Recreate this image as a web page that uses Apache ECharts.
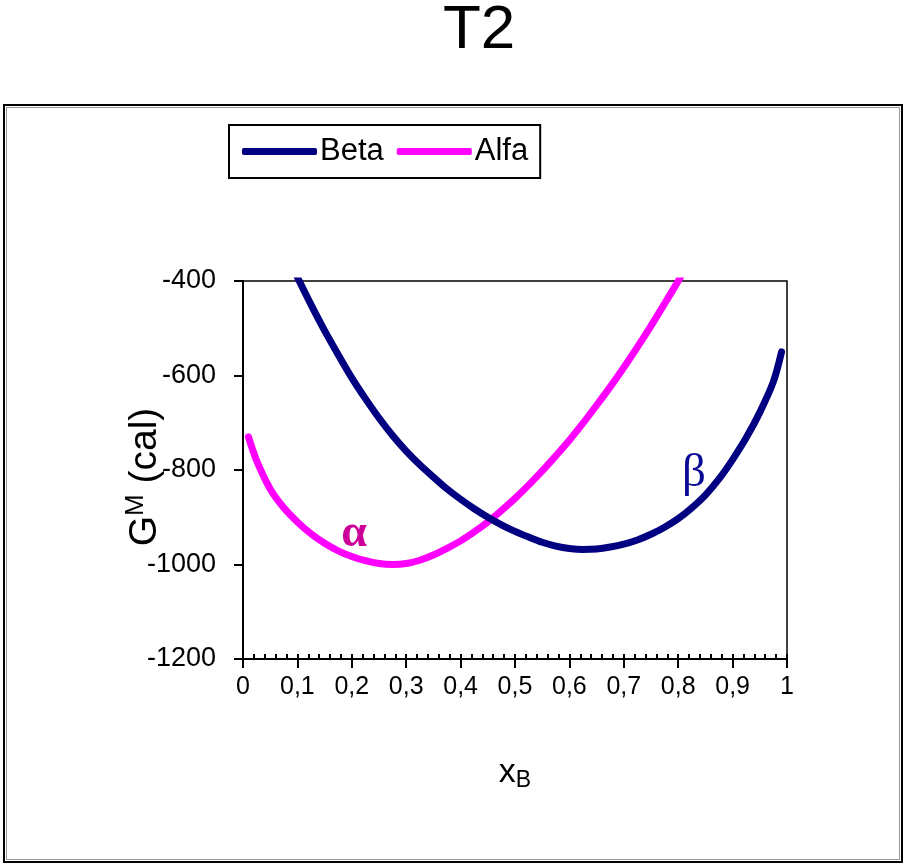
<!DOCTYPE html>
<html>
<head>
<meta charset="utf-8">
<script src="https://cdn.jsdelivr.net/npm/echarts@6/dist/echarts.min.js"></script>
<style>
  html, body { margin: 0; padding: 0; background: #fff; }
  #chart { width: 905px; height: 865px; }
</style>
</head>
<body>
<div id="chart"></div>
<script>
// Gibbs energy of mixing curves
const betaX = [0.100, 0.125, 0.150, 0.175, 0.200, 0.225, 0.250, 0.275, 0.300, 0.325, 0.350, 0.375, 0.400,
  0.425, 0.450, 0.475, 0.500, 0.525, 0.550, 0.575, 0.600, 0.625, 0.650, 0.675, 0.700, 0.725, 0.750,
  0.775, 0.800, 0.825, 0.850, 0.875, 0.900, 0.925, 0.950, 0.975, 0.990];
const betaG = [-392, -450, -505, -556, -605, -649, -690, -727, -760, -789, -815, -840, -862,
  -882, -900, -916, -930, -942, -953, -961, -966, -968, -967, -963, -957, -948, -936,
  -921, -903, -880, -853, -819, -778, -732, -678, -613, -550];

const alfaX = [0.010, 0.025, 0.050, 0.075, 0.100, 0.125, 0.150, 0.175, 0.200, 0.225, 0.250, 0.275, 0.300,
  0.325, 0.350, 0.375, 0.400, 0.425, 0.450, 0.475, 0.500, 0.525, 0.550, 0.575, 0.600, 0.625, 0.650,
  0.675, 0.700, 0.725, 0.750, 0.775, 0.800, 0.820];
const alfaG = [-730, -780, -840, -880, -910, -935, -955, -971, -983, -992, -998, -1000, -998,
  -991, -980, -966, -950, -931, -910, -886, -860, -832, -802, -770, -737, -701, -663,
  -624, -583, -540, -495, -448, -400, -360];

const xTicks = { min: 0, max: 1, step: 0.1, minorStep: 0.02 };
const yTicks = { min: -1200, max: -400, step: 200 };

const FONT = 'Liberation Sans, Arial, sans-serif';
const SERIF = 'Liberation Serif, Times New Roman, serif';

const chart = echarts.init(document.getElementById('chart'));

const zip = (xs, ys) => xs.map((x, i) => [x, ys[i]]);

chart.setOption({
  animation: false,
  backgroundColor: '#fff',
  title: {
    text: 'T2',
    left: 443,
    top: 0,
    padding: 0,
    textStyle: { fontFamily: FONT, fontSize: 62, fontWeight: 'normal', color: '#000' }
  },
  legend: {
    left: 229,
    top: 125,
    padding: [11, 12, 11, 13],
    borderColor: '#000',
    borderWidth: 2,
    borderRadius: 0,
    itemWidth: 75,
    itemHeight: 7,
    itemGap: 13,
    icon: 'roundRect',
    data: ['Beta', 'Alfa'],
    textStyle: { fontFamily: FONT, fontSize: 31, color: '#000', padding: [0, 0, 0, -2] }
  },
  grid: {
    left: 243,
    right: 118,
    top: 281,
    bottom: 206,
    show: true,
    borderColor: '#000',
    borderWidth: 1.5,
    backgroundColor: 'transparent'
  },
  xAxis: [
    {
      type: 'value',
      position: 'bottom',
      min: xTicks.min,
      max: xTicks.max,
      interval: xTicks.step,
      name: '{x|x}{sub|B}',
      nameLocation: 'middle',
      nameGap: 94,
      nameMoveOverlap: false,
      nameTextStyle: {
        rich: {
          x: { fontFamily: FONT, fontSize: 34, color: '#000' },
          sub: { fontFamily: FONT, fontSize: 23, color: '#000', padding: [16, 0, 0, 0] }
        }
      },
      axisLine: { show: true, lineStyle: { color: '#000', width: 2 } },
      axisTick: { show: true, inside: false, length: 9, lineStyle: { color: '#000', width: 2 } },
      axisLabel: {
        margin: 16,
        fontFamily: FONT,
        fontSize: 25,
        color: '#000',
        formatter: v => String(Math.round(v * 10) / 10).replace('.', ',')
      },
      splitLine: { show: false }
    },
    {
      type: 'value',
      position: 'bottom',
      offset: 0,
      min: xTicks.min,
      max: xTicks.max,
      interval: xTicks.minorStep,
      axisLine: { show: false },
      axisTick: { show: true, inside: true, length: 5, lineStyle: { color: '#000', width: 2 } },
      axisLabel: { show: false },
      splitLine: { show: false }
    }
  ],
  yAxis: {
    type: 'value',
    min: yTicks.min,
    max: yTicks.max,
    interval: yTicks.step,
    name: '{g|G}{sup|M}{g| (cal)}',
    nameLocation: 'middle',
    nameGap: 76,
    nameMoveOverlap: false,
    nameRotate: 90,
    nameTextStyle: {
      padding: [0, 14, 0, 0],
      rich: {
        g: { fontFamily: FONT, fontSize: 39, color: '#000' },
        sup: { fontFamily: FONT, fontSize: 26, color: '#000', padding: [0, 0, 18, 0] }
      }
    },
    axisLine: { show: true, lineStyle: { color: '#000', width: 2 } },
    axisTick: { show: true, inside: false, length: 9, lineStyle: { color: '#000', width: 2 } },
    axisLabel: { margin: 27, fontFamily: FONT, fontSize: 27, color: '#000', formatter: v => String(v) },
    splitLine: { show: false }
  },
  series: [
    {
      name: 'Beta',
      type: 'line',
      xAxisIndex: 0,
      data: zip(betaX, betaG),
      smooth: 0.3,
      showSymbol: false,
      color: '#000080',
      lineStyle: { width: 7, color: '#000080', cap: 'round', join: 'round' },
      z: 3
    },
    {
      name: 'Alfa',
      type: 'line',
      xAxisIndex: 0,
      data: zip(alfaX, alfaG),
      smooth: 0.3,
      showSymbol: false,
      color: '#ff00ff',
      lineStyle: { width: 7, color: '#ff00ff', cap: 'round', join: 'round' },
      z: 2
    }
  ],
  graphic: [
    {
      type: 'rect',
      shape: { x: 4, y: 105, width: 898, height: 757 },
      style: { fill: 'none', stroke: '#000', lineWidth: 2 },
      silent: true
    },
    {
      type: 'rect',
      shape: { x: 6.5, y: 107.5, width: 893, height: 752 },
      style: { fill: 'none', stroke: '#999', lineWidth: 1 },
      silent: true
    },
    {
      type: 'text',
      x: 354,
      y: 534,
      style: { text: 'α', font: 'bold 46px ' + SERIF, fill: '#cc0099', align: 'center', verticalAlign: 'middle' },
      z: 10
    },
    {
      type: 'text',
      x: 694,
      y: 474,
      style: { text: 'β', font: '47px ' + SERIF, fill: '#0a0a96', align: 'center', verticalAlign: 'middle' },
      z: 10
    }
  ]
});
</script>
</body>
</html>
